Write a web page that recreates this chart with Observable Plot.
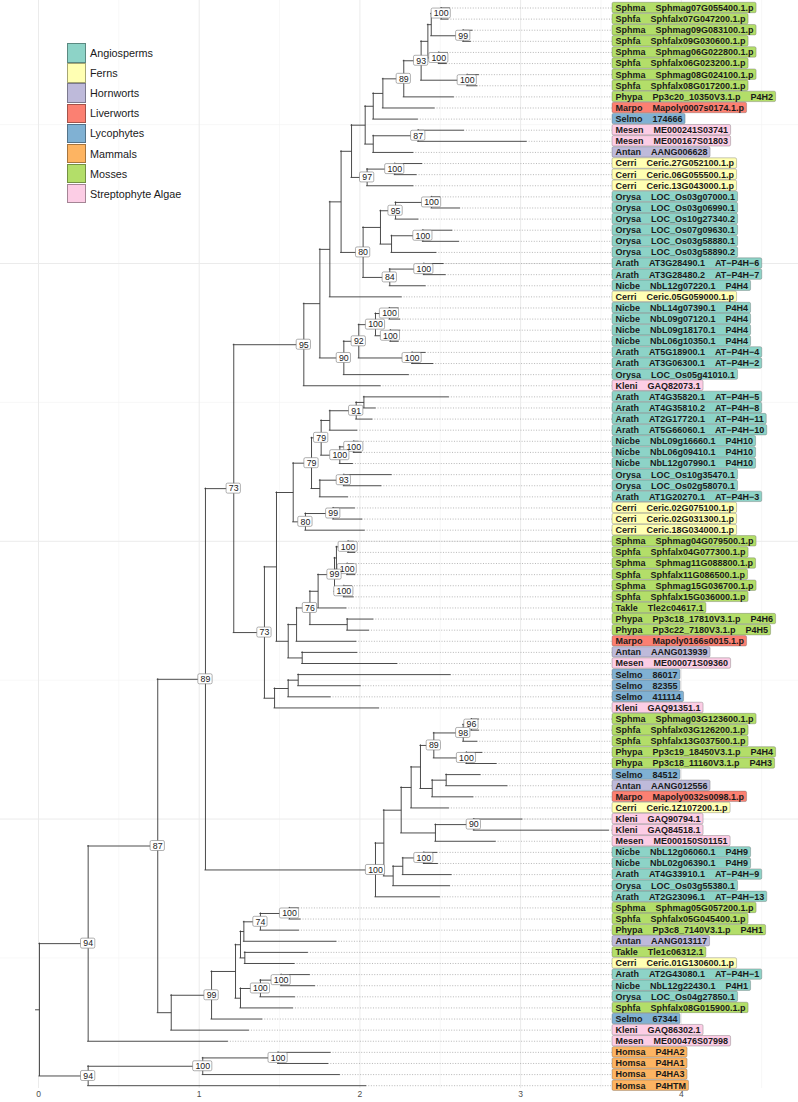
<!DOCTYPE html>
<html><head><meta charset="utf-8">
<script src="https://cdn.jsdelivr.net/npm/d3@7"></script>
<script src="https://cdn.jsdelivr.net/npm/@observablehq/plot@0.6"></script>
<style>
html,body{margin:0;padding:0;background:#fff;font-family:"Liberation Sans",Arial,sans-serif}
#wrap{position:relative;width:798px;height:1102px;overflow:hidden}
#legend{position:absolute;left:67px;top:43px}
#legend .row{display:flex;align-items:center;height:20.1px}
#legend .key{width:19px;height:19.5px;box-sizing:border-box;border:0.6px solid rgba(0,0,0,0.35)}
#legend .lab{margin-left:4px;font-size:10.8px;color:#1a1a1a}
svg text{white-space:pre}
</style></head><body><div id="wrap"></div>
<script>
// ---------- leaves (top to bottom) ----------
const leafSpecies = ["Sphma","Sphfa","Sphma","Sphfa","Sphma","Sphfa","Sphma","Sphfa","Phypa","Marpo",
"Selmo","Mesen","Mesen","Antan","Cerri","Cerri","Cerri","Orysa","Orysa","Orysa",
"Orysa","Orysa","Orysa","Arath","Arath","Nicbe","Cerri","Nicbe","Nicbe","Nicbe",
"Nicbe","Arath","Arath","Orysa","Kleni","Arath","Arath","Arath","Arath","Nicbe",
"Nicbe","Nicbe","Orysa","Orysa","Arath","Cerri","Cerri","Cerri","Sphma","Sphfa",
"Sphma","Sphfa","Sphma","Sphfa","Takle","Phypa","Phypa","Marpo","Antan","Mesen",
"Selmo","Selmo","Selmo","Kleni","Sphma","Sphfa","Sphfa","Phypa","Phypa","Selmo",
"Antan","Marpo","Cerri","Kleni","Kleni","Mesen","Nicbe","Nicbe","Arath","Orysa",
"Arath","Sphma","Sphfa","Phypa","Antan","Takle","Cerri","Arath","Nicbe","Orysa",
"Sphfa","Selmo","Kleni","Mesen","Homsa","Homsa","Homsa","Homsa"];
const leafIds = ["Sphmag07G055400.1.p","Sphfalx07G047200.1.p","Sphmag09G083100.1.p","Sphfalx09G030600.1.p","Sphmag06G022800.1.p","Sphfalx06G023200.1.p","Sphmag08G024100.1.p","Sphfalx08G017200.1.p","Pp3c20_10350V3.1.p","Mapoly0007s0174.1.p",
"174666","ME000241S03741","ME000167S01803","AANG006628","Ceric.27G052100.1.p","Ceric.06G055500.1.p","Ceric.13G043000.1.p","LOC_Os03g07000.1","LOC_Os03g06990.1","LOC_Os10g27340.2",
"LOC_Os07g09630.1","LOC_Os03g58880.1","LOC_Os03g58890.2","AT3G28490.1","AT3G28480.2","NbL12g07220.1","Ceric.05G059000.1.p","NbL14g07390.1","NbL09g07120.1","NbL09g18170.1",
"NbL06g10350.1","AT5G18900.1","AT3G06300.1","LOC_Os05g41010.1","GAQ82073.1","AT4G35820.1","AT4G35810.2","AT2G17720.1","AT5G66060.1","NbL09g16660.1",
"NbL06g09410.1","NbL12g07990.1","LOC_Os10g35470.1","LOC_Os02g58070.1","AT1G20270.1","Ceric.02G075100.1.p","Ceric.02G031300.1.p","Ceric.18G034000.1.p","Sphmag04G079500.1.p","Sphfalx04G077300.1.p",
"Sphmag11G088800.1.p","Sphfalx11G086500.1.p","Sphmag15G036700.1.p","Sphfalx15G036000.1.p","Tle2c04617.1","Pp3c18_17810V3.1.p","Pp3c22_7180V3.1.p","Mapoly0166s0015.1.p","AANG013939","ME000071S09360",
"86017","82355","411114","GAQ91351.1","Sphmag03G123600.1.p","Sphfalx03G126200.1.p","Sphfalx13G037500.1.p","Pp3c19_18450V3.1.p","Pp3c18_11160V3.1.p","84512",
"AANG012556","Mapoly0032s0098.1.p","Ceric.1Z107200.1.p","GAQ90794.1","GAQ84518.1","ME000150S01151","NbL12g06060.1","NbL02g06390.1","AT4G33910.1","LOC_Os03g55380.1",
"AT2G23096.1","Sphmag05G057200.1.p","Sphfalx05G045400.1.p","Pp3c8_7140V3.1.p","AANG013117","Tle1c06312.1","Ceric.01G130600.1.p","AT2G43080.1","NbL12g22430.1","LOC_Os04g27850.1",
"Sphfalx08G015900.1.p","67344","GAQ86302.1","ME000476S07998","P4HA2","P4HA1","P4HA3","P4HTM"];
const leafAlias = ["","","","","","","","","P4H2","",
"","","","","","","","","","",
"","","","AT−P4H−6","AT−P4H−7","P4H4","","P4H4","P4H4","P4H4",
"P4H4","AT−P4H−4","AT−P4H−2","","","AT−P4H−5","AT−P4H−8","AT−P4H−11","AT−P4H−10","P4H10",
"P4H10","P4H10","","","AT−P4H−3","","","","","",
"","","","","","P4H6","P4H5","","","",
"","","","","","","","P4H4","P4H3","",
"","","","","","","P4H9","P4H9","AT−P4H−9","",
"AT−P4H−13","","","P4H1","","","","AT−P4H−1","P4H1","",
"","","","","","","",""];
const leafTipX = [2.56,2.55,2.70,2.69,2.545,2.54,2.74,2.73,2.584,2.464,
2.360,2.647,3.037,2.332,2.387,2.352,2.332,2.50,2.622,2.363,
2.574,2.616,2.475,2.52,2.533,2.408,2.259,2.24,2.25,2.25,
2.24,2.408,2.456,2.304,2.128,2.553,2.097,2.077,1.983,1.99,
2.01,1.956,2.197,2.133,1.925,1.968,2.014,2.029,1.96,1.97,
1.96,1.97,1.95,1.96,1.915,2.083,2.056,1.977,1.983,2.232,
2.564,2.004,1.817,2.118,2.74,2.74,2.730,2.761,2.850,2.750,
2.917,2.705,2.553,3.010,3.549,2.844,2.481,2.485,2.570,2.560,
2.497,1.62,1.63,1.620,1.853,1.676,1.593,1.688,1.720,1.595,
1.583,1.392,1.309,1.178,1.817,1.803,1.875,2.039];

// ---------- internal nodes (children listed before parents) ----------
const nodeNames = ["a1","a2","a3","a4","a5","a6","a7","a8","a9","a10","a11","a12","a13","a14","a15","a16","a17","a18","a19","a20","a21","a22","a23","a24","a25","a26","a27","a28","a29","a30","a31","a32","a33","a34",
"b1","b2","b3","b4","b5","b6","b7","b8","b9","b10","b11","b12","b13","b14","b15","b16","b17","b18","b19","b20","b21","b22","b23","b24","b25","b26","b27","b28","b29",
"c1","c2","c3","c4","c5","c6","c7","c8","c9","c10","c11","c12","c13","c14","c15","c16","c17",
"d1","d2","d3","d4","d5","d6","d7","d8","d9","d10","d11","d12","d13","e1","e2","e3","root"];
const nodeChildren = [[1,2],[3,4],["a1","a2"],[5,6],["a3","a4"],[7,8],["a5","a6"],["a7",9],["a8",10],["a9",11],[12,13],["a11",14],["a10","a12"],[15,16],["a14",17],["a13","a15"],[18,19],["a17",20],[21,22],["a19",23],["a18","a20"],[24,25],["a22",26],["a21","a23"],["a16","a24"],["a25",27],[28,29],[30,31],["a27","a28"],[32,33],["a29","a30"],["a31",34],["a26","a32"],["a33",35],
[36,37],["b1",38],["b2",39],[40,41],["b4",42],["b3","b5"],[43,44],["b7",45],["b6","b8"],[46,47],["b10",48],["b9","b11"],[49,50],[51,52],["b13","b14"],[53,54],["b15","b16"],["b17",55],[56,57],["b18","b19"],["b20",58],[59,60],["b21","b22"],["b12","b23"],[61,62],["b25",63],["b26",64],["b24","b27"],["a34","b28"],
[65,66],["c1",67],[68,69],["c2","c3"],[70,71],["c5",72],["c4","c6"],["c7",73],[74,75],["c9",76],["c8","c10"],[77,78],["c12",79],["c13",80],["c11","c14"],["c15",81],["b29","c16"],
[82,83],["d1",84],["d2",85],[86,87],["d3","d4"],[88,89],["d6",90],["d7",91],["d5","d8"],["d9",92],["d10",93],["c17","d11"],["d12",94],[95,96],["e1",97],["e2",98],["d13","e3"]];
const nodeX = [2.506,2.643,2.444,2.491,2.423,2.668,2.381,2.273,2.143,2.083,2.363,2.083,2.033,2.217,2.045,1.948,2.446,2.222,2.392,2.197,2.128,2.398,2.186,2.020,1.883,1.813,2.184,2.190,2.097,2.325,1.993,1.900,1.751,1.651,
2.025,1.977,1.813,1.962,1.875,1.759,1.900,1.751,1.699,1.834,1.661,1.585,1.927,1.921,1.854,1.900,1.842,1.740,1.921,1.689,1.606,1.641,1.554,1.481,1.616,1.554,1.469,1.406,1.215,
2.694,2.643,2.663,2.460,2.537,2.450,2.377,2.319,2.709,2.470,2.257,2.398,2.267,2.207,2.149,2.097,1.039,
1.562,1.381,1.278,1.284,1.257,1.510,1.381,1.257,1.226,1.077,0.826,0.742,0.309,1.491,1.022,0.309,0.006];
const nodeSupport = [100,99,null,100,null,100,93,89,null,null,87,null,null,100,97,null,100,95,100,null,null,100,84,80,null,null,100,100,100,100,92,90,null,95,
null,91,null,100,100,79,93,null,79,99,80,null,100,100,null,100,99,null,null,76,null,null,null,null,null,null,null,73,73,
96,98,100,89,null,null,null,null,90,null,null,100,null,null,null,100,89,
100,74,null,null,null,100,100,null,null,99,null,87,94,100,100,94,null];
const rootEdgeStart = -0.015;

// ---------- groups ----------
const groups = ["Angiosperms","Ferns","Hornworts","Liverworts","Lycophytes","Mammals","Mosses","Streptophyte Algae"];
const groupColors = ["#8DD3C7","#FFFFB3","#BEBADA","#FB8072","#80B1D3","#FDB462","#B3DE69","#FCCDE5"];
const groupSpecies = [["Orysa","Arath","Nicbe"],["Cerri"],["Antan"],["Marpo"],["Selmo"],["Homsa"],["Sphma","Sphfa","Phypa","Takle"],["Mesen","Kleni"]];
const xTicks = [0,1,2,3,4];
const xMinor = [0.5,1.5,2.5,3.5,4.5];
const yMajor = [25,50,75];
const yMinor = [12.5,37.5,62.5,87.5];
const labelX = 3.572;

// ---------- layout ----------
const X0 = 38, X4 = 680.8, PXU = (X4 - X0) / 4;
const nL = leafSpecies.length;
const pos = new Map();
leafSpecies.forEach((s, i) => pos.set(i + 1, {x: leafTipX[i], y: nL + 1 - (i + 1)}));
nodeNames.forEach((n, k) => {
  const ys = nodeChildren[k].map(c => pos.get(c).y);
  pos.set(n, {x: nodeX[k], y: d3.mean(ys)});
});
const hEdges = [], vEdges = [];
nodeNames.forEach((n, k) => {
  const p = pos.get(n);
  const cs = nodeChildren[k].map(c => pos.get(c));
  cs.forEach(c => hEdges.push({x1: p.x, x2: c.x, y: c.y}));
  vEdges.push({x: p.x, y1: d3.min(cs, c => c.y), y2: d3.max(cs, c => c.y)});
});
const rootPos = pos.get("root");
hEdges.push({x1: rootEdgeStart, x2: rootPos.x, y: rootPos.y});

const ctx = document.createElement("canvas").getContext("2d");
const FONT = "'Liberation Sans', Arial, sans-serif";
function tw(t, f) { ctx.font = f; return ctx.measureText(t).width; }
const groupOf = s => groups[groupSpecies.findIndex(a => a.includes(s))];
const SEP = "\u00a0\u00a0\u00a0\u00a0";
const leaves = leafSpecies.map((s, i) => {
  const text = [s, leafIds[i], leafAlias[i]].filter(Boolean).join(SEP);
  const w = tw(text, "bold 9px " + FONT);
  const y = nL + 1 - (i + 1);
  return {text, group: groupOf(s), tip: leafTipX[i], y, x2: labelX + (w + 6) / PXU};
});
const NFS = 8.8;
const nodeLabs = nodeNames.map((n, k) => ({n, s: nodeSupport[k]})).filter(d => d.s != null).map(d => {
  const p = pos.get(d.n);
  const t = String(d.s);
  const w = tw(t, NFS + "px " + FONT) + 4.5;
  return {x: p.x, y: p.y, t, x1: p.x - w / 2 / PXU, x2: p.x + w / 2 / PXU};
});

const chart = Plot.plot({
  width: 798, height: 1102,
  marginLeft: 0, marginRight: 0, marginTop: 0, marginBottom: 14,
  style: {fontFamily: FONT, background: "white"},
  x: {domain: [0, 4], range: [X0, X4]},
  y: {domain: [1, nL], range: [1085.2, 7.5], axis: null},
  color: {domain: groups, range: groupColors},
  marks: [
    Plot.ruleX(xMinor, {stroke: "#f1f1f1", strokeWidth: 0.6}),
    Plot.ruleY(yMinor, {stroke: "#f1f1f1", strokeWidth: 0.6}),
    Plot.ruleX(xTicks, {stroke: "#ebebeb", strokeWidth: 1}),
    Plot.ruleY(yMajor, {stroke: "#ebebeb", strokeWidth: 1}),
    Plot.axisX({ticks: xTicks, tickFormat: d3.format("d"), tickSize: 0, tickPadding: 2, fontSize: 8.5, color: "#4d4d4d", label: null}),
    Plot.ruleY(leaves, {y: "y", x1: "tip", x2: labelX, stroke: "#9a9a9a", strokeWidth: 0.7, strokeDasharray: "1,1.6"}),
    Plot.ruleY(hEdges, {y: "y", x1: "x1", x2: "x2", stroke: "#383838", strokeWidth: 0.9, strokeLinecap: "square"}),
    Plot.ruleX(vEdges, {x: "x", y1: "y1", y2: "y2", stroke: "#383838", strokeWidth: 0.9, strokeLinecap: "square"}),
    Plot.rect(nodeLabs, {x1: "x1", x2: "x2", y1: d => d.y - 0.45, y2: d => d.y + 0.45, fill: "white", stroke: "#7a7a7a", strokeWidth: 0.6, rx: 1.5}),
    Plot.text(nodeLabs, {x: "x", y: "y", text: "t", fontSize: NFS, fill: "#222"}),
    Plot.rect(leaves, {x1: labelX, x2: "x2", y1: d => d.y - 0.47, y2: d => d.y + 0.47, fill: "group", stroke: "#555", strokeOpacity: 0.65, strokeWidth: 0.5, rx: 1.5}),
    Plot.text(leaves, {x: labelX, y: "y", text: "text", textAnchor: "start", dx: 3, fontSize: 9, fontWeight: "bold", fill: "#1a1a1a"})
  ]
});
const wrap = document.getElementById("wrap");
wrap.appendChild(chart);

// legend overlay
const leg = document.createElement("div");
leg.id = "legend";
groups.forEach((g, i) => {
  const row = document.createElement("div"); row.className = "row";
  const key = document.createElement("div"); key.className = "key"; key.style.background = groupColors[i];
  const lab = document.createElement("div"); lab.className = "lab"; lab.textContent = g;
  row.appendChild(key); row.appendChild(lab); leg.appendChild(row);
});
wrap.appendChild(leg);
</script></body></html>
